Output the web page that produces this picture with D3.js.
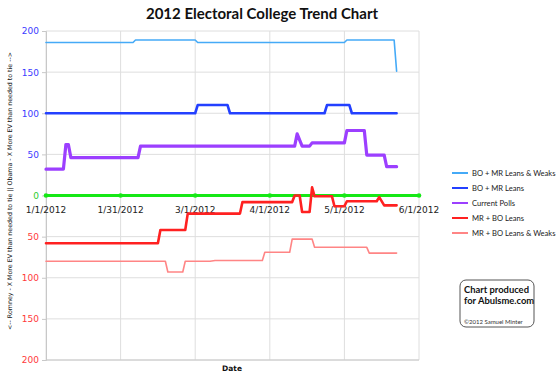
<!DOCTYPE html>
<html>
<head>
    <script src="https://cdnjs.cloudflare.com/ajax/libs/d3/7.8.5/d3.min.js"></script>
    <style>
      body { margin: 0; background: #fff; }
    </style>
</head>
<body>
    <svg id="chart" width="560" height="379"></svg>
    <script>
      // values: [date, EV margin]  (negative = Romney side)
      const leansWeaksBO = [["2012-01-01",186],["2012-02-05",186],["2012-02-06",189],["2012-03-01",189],["2012-03-02",186],
        ["2012-04-30",186],["2012-05-01",189],["2012-05-20",189],["2012-05-21",151]]
      const leansBO = [["2012-01-01",100],["2012-03-01",100],["2012-03-02",110],["2012-03-14",110],["2012-03-15",100],
        ["2012-04-22",100],["2012-04-23",110],["2012-05-02",110],["2012-05-03",100],["2012-05-21",100]]
      const currentPolls = [["2012-01-01",32],["2012-01-08",32],["2012-01-09",62],["2012-01-10",62],["2012-01-11",46],
        ["2012-02-07",46],["2012-02-08",60],["2012-04-10",60],["2012-04-11",75],["2012-04-13",60],["2012-04-16",60],
        ["2012-04-17",64],["2012-04-30",64],["2012-05-01",79],["2012-05-08",79],["2012-05-09",49],["2012-05-16",49],
        ["2012-05-17",35],["2012-05-21",35]]
      const leansMR = [["2012-01-01",-58],["2012-02-15",-58],["2012-02-16",-42],["2012-02-26",-42],["2012-02-27",-22],
        ["2012-03-19",-22],["2012-03-20",-8],["2012-04-09",-8],["2012-04-10",0],["2012-04-12",0],["2012-04-13",-20],
        ["2012-04-16",-20],["2012-04-17",10],["2012-04-18",-1],["2012-04-25",-1],["2012-04-26",-13],["2012-04-30",-13],
        ["2012-05-01",-7],["2012-05-13",-7],["2012-05-14",-2],["2012-05-16",-12],["2012-05-21",-12]]
      const leansWeaksMR = [["2012-01-01",-80],["2012-02-18",-80],["2012-02-19",-93],["2012-02-25",-93],["2012-02-26",-80],
        ["2012-03-07",-80],["2012-03-09",-79],["2012-03-28",-79],["2012-03-29",-69],["2012-04-08",-69],["2012-04-09",-53],
        ["2012-04-17",-53],["2012-04-18",-63],["2012-05-09",-63],["2012-05-10",-70],["2012-05-21",-70]]

      const tickDates = ["2012-01-01","2012-01-31","2012-03-01","2012-03-31","2012-04-30","2012-05-30"]
      const tickLabels = ["1/1/2012","1/31/2012","3/1/2012","4/1/2012","5/1/2012","6/1/2012"]
      const yTicks = [200,150,100,50,0,-50,-100,-150,-200]

      const series = [
        {name: "BO + MR Leans & Weaks", data: leansWeaksBO, color: "#45aaf7", width: 1.6},
        {name: "BO + MR Leans", data: leansBO, color: "#2340ff", width: 2.6},
        {name: "Current Polls", data: currentPolls, color: "#9c3fff", width: 3.2},
        {name: "MR + BO Leans", data: leansMR, color: "#ff2121", width: 2.6},
        {name: "MR + BO Leans & Weaks", data: leansWeaksMR, color: "#ff8585", width: 1.6}
      ]

      const parse = d3.utcParse("%Y-%m-%d")
      const svg = d3.select('#chart')

      const x = d3.scaleUtc().domain([parse(tickDates[0]), parse(tickDates[tickDates.length - 1])]).range([46, 419])
      const y = d3.scaleLinear().domain([-200, 200]).range([360, 31])

      // grid
      svg.append('g').selectAll('line.h').data(yTicks).enter().append('line')
        .attr('x1', 46).attr('x2', 419)
        .attr('y1', d => y(d)).attr('y2', d => y(d))
        .style('stroke', '#dedede').style('stroke-width', 1)
      svg.append('g').selectAll('line.v').data(tickDates).enter().append('line')
        .attr('x1', d => x(parse(d))).attr('x2', d => x(parse(d)))
        .attr('y1', y(200)).attr('y2', y(-200))
        .style('stroke', '#dedede').style('stroke-width', 1)

      // left axis
      const yAxis = d3.axisLeft(y).tickValues(yTicks).tickSize(4).tickFormat(d => Math.abs(d))
      const ya = svg.append('g').attr('transform', 'translate(46,0)').call(yAxis)
      ya.select('.domain').style('stroke', '#c8c8c8')
      ya.selectAll('.tick line').style('stroke', '#c8c8c8')
      ya.selectAll('.tick text')
        .style('font-family', 'DejaVu Sans').style('font-size', '9px')
        .style('fill', d => d > 0 ? '#3b3bff' : d < 0 ? '#ff3a3a' : '#2ecc2e')
      svg.append('line').attr('x1', 46).attr('x2', 419).attr('y1', y(-200)).attr('y2', y(-200))
        .style('stroke', '#c8c8c8')

      // tie line
      svg.append('path')
        .datum(tickDates)
        .attr('d', d3.line().x(d => x(parse(d))).y(y(0)))
        .style('fill', 'none').style('stroke', '#16e816').style('stroke-width', 3)
      svg.append('g').selectAll('circle').data(tickDates).enter().append('circle')
        .attr('cx', d => x(parse(d))).attr('cy', y(0)).attr('r', 2.3)
        .style('fill', '#16e816')

      // date labels under the tie line
      svg.append('g').selectAll('text').data(tickDates).enter().append('text')
        .attr('x', d => x(parse(d))).attr('y', y(0) + 17)
        .attr('text-anchor', 'middle')
        .style('font-family', 'DejaVu Sans').style('font-size', '9px').style('fill', '#222')
        .text((d, i) => tickLabels[i])

      // series
      const line = d3.line().x(d => x(parse(d[0]))).y(d => y(d[1]))
      series.forEach(s => {
        svg.append('path').datum(s.data).attr('d', line)
          .style('fill', 'none').style('stroke', s.color).style('stroke-width', s.width)
          .style('stroke-linejoin', 'round').style('stroke-linecap', 'round')
      })

      // title and axis titles
      svg.append('text').attr('x', 262).attr('y', 19).attr('text-anchor', 'middle')
        .style('font-family', 'Lato').style('font-weight', 'bold').style('font-size', '15px').style('fill', '#111')
        .text('2012 Electoral College Trend Chart')
      svg.append('text').attr('x', 232).attr('y', 371).attr('text-anchor', 'middle')
        .style('font-family', 'DejaVu Sans').style('font-weight', 'bold').style('font-size', '7.5px').style('fill', '#111')
        .text('Date')
      svg.append('text').attr('transform', 'translate(12,191) rotate(-90)').attr('text-anchor', 'middle')
        .style('font-family', 'DejaVu Sans').style('font-size', '6.3px').style('fill', '#111')
        .text('<-- Romney - X More EV than needed to tie || Obama - X More EV than needed to tie -->')

      // legend
      const lg = svg.append('g').selectAll('g').data(series).enter().append('g')
        .attr('transform', (d, i) => 'translate(452,' + (173 + i * 15) + ')')
      lg.append('line').attr('x1', 0).attr('x2', 16)
        .style('stroke', d => d.color).style('stroke-width', 2)
      lg.append('text').attr('x', 20).attr('y', 3)
        .style('font-family', 'Lato').style('font-size', '7.6px').style('fill', '#222')
        .text(d => d.name)

      // credit box
      svg.append('rect').attr('x', 460).attr('y', 280).attr('width', 74).attr('height', 47)
        .attr('rx', 6).style('fill', '#fff').style('stroke', '#555').style('stroke-width', 1)
      svg.append('text').attr('x', 464).attr('y', 293)
        .style('font-family', 'Lato').style('font-weight', 'bold').style('font-size', '9.4px').style('fill', '#111')
        .text('Chart produced')
      svg.append('text').attr('x', 464).attr('y', 304)
        .style('font-family', 'Lato').style('font-weight', 'bold').style('font-size', '9.4px').style('fill', '#111')
        .text('for Abulsme.com')
      svg.append('text').attr('x', 464).attr('y', 324)
        .style('font-family', 'Lato').style('font-size', '6px').style('fill', '#333')
        .text('©2012 Samuel Minter')
    </script>
</body>
</html>
